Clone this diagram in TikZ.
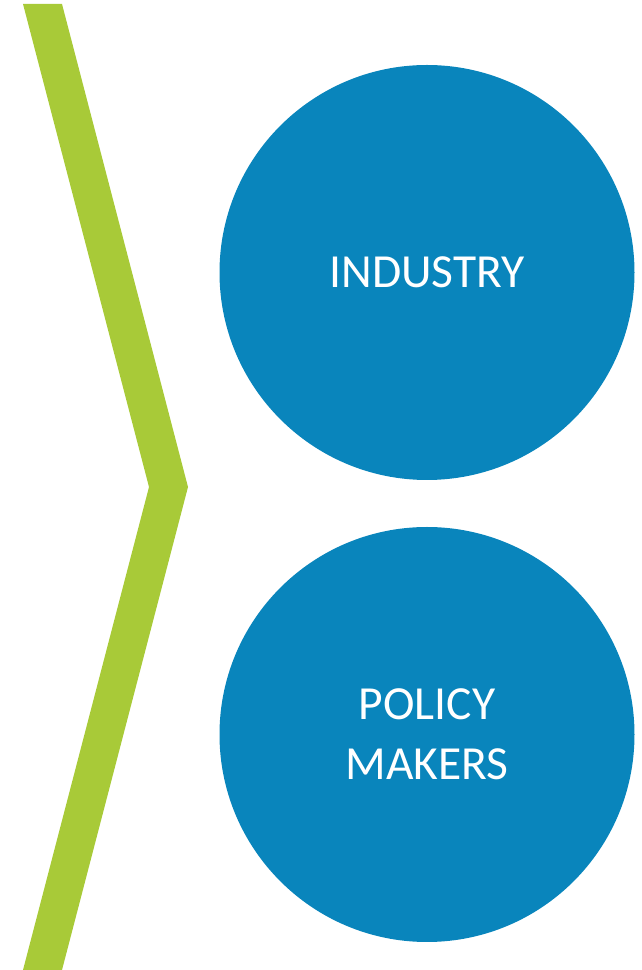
\documentclass[tikz,border=0pt]{standalone}
\usepackage{fontspec}
\setmainfont{Carlito}
\definecolor{chevgreen}{RGB}{168,202,56}
\definecolor{bubbleblue}{RGB}{9,133,188}
\tikzset{bubble/.style={circle, fill=bubbleblue, text=white, minimum size=415pt, inner sep=0pt, align=center, font=\fontsize{47.5}{60}\selectfont}}
\begin{document}
\begin{tikzpicture}[x=1pt,y=1pt]
\def\W{641};\def\H{970};
\useasboundingbox (0,0) rectangle (\W,\H);
% chevron band
\coordinate (tl) at (23,966); \coordinate (tr) at (62,966);
\coordinate (tipo) at (188,483); \coordinate (tipi) at (149,483);
\coordinate (bl) at (23,0); \coordinate (br) at (62,0);
\fill[chevgreen] (tl)--(tr)--(tipo)--(br)--(bl)--(tipi)--cycle;
% circles
\node[bubble] (industry) at (427,697.5) {INDUSTRY};
\node[bubble] (policy) at (427,235.5) {POLICY\\MAKERS};
\end{tikzpicture}
\end{document}
